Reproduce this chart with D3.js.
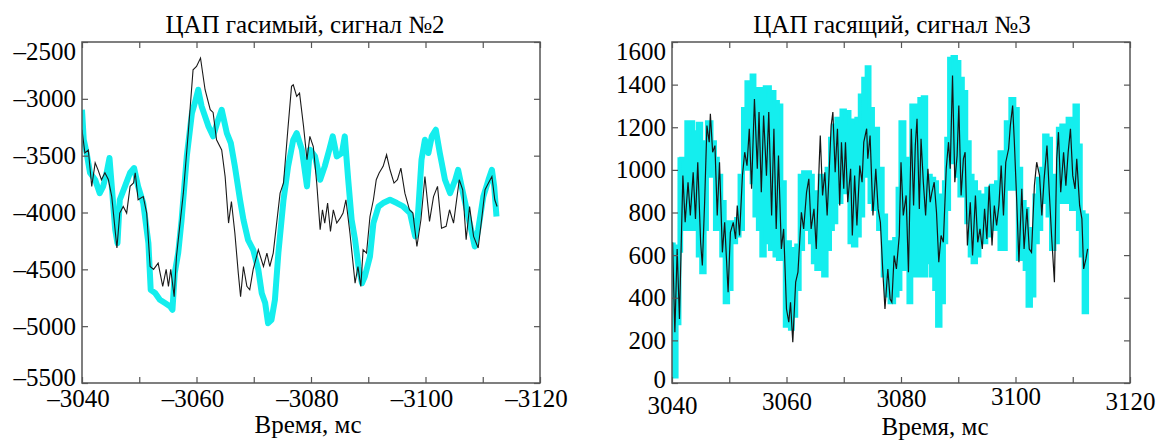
<!DOCTYPE html>
<html>
<head>
<meta charset="utf-8">
<script src="https://cdn.jsdelivr.net/npm/d3@7"></script>
<style>
  body { margin: 0; background: #fff; }
</style>
</head>
<body>
<svg id="chart" width="1163" height="441"></svg>
<script>
// ---- left panel: ЦАП гасимый, сигнал №2 ----
const leftXTicks = [-3040, -3050, -3060, -3070, -3080, -3090, -3100, -3110, -3120];
const leftXLabels = [-3040, -3060, -3080, -3100, -3120];
const leftYTicks = [-5500, -5000, -4500, -4000, -3500, -3000, -2500];

const leftBlackT = [-3040.0,-3040.5,-3041.1,-3041.7,-3042.3,-3042.8,-3043.4,-3044.0,-3044.6,-3045.2,
  -3046.1,-3046.6,-3047.2,-3047.8,-3048.4,-3049.0,-3049.3,-3049.8,-3050.7,-3051.3,
  -3051.9,-3052.5,-3053.3,-3054.1,-3054.7,-3055.1,-3055.5,-3056.1,-3056.5,-3057.7,
  -3058.6,-3059.4,-3060.0,-3060.7,-3061.5,-3062.4,-3062.9,-3063.5,-3064.4,-3065.0,
  -3065.6,-3066.1,-3066.7,-3067.3,-3067.7,-3068.2,-3068.8,-3069.3,-3069.9,-3070.8,
  -3071.7,-3072.3,-3072.8,-3073.4,-3074.6,-3075.2,-3076.0,-3076.6,-3076.9,-3077.5,
  -3078.0,-3078.7,-3079.3,-3079.8,-3080.4,-3081.0,-3081.6,-3082.0,-3082.4,-3082.9,
  -3083.4,-3083.9,-3084.5,-3085.1,-3085.6,-3086.1,-3086.8,-3087.7,-3088.2,-3088.7,
  -3089.1,-3089.7,-3090.3,-3090.9,-3091.4,-3091.9,-3092.6,-3093.2,-3093.8,-3094.5,
  -3095.1,-3095.7,-3096.4,-3097.2,-3097.8,-3098.5,-3099.2,-3099.9,-3100.7,-3101.4,
  -3102.1,-3102.8,-3103.6,-3104.2,-3104.9,-3105.9,-3106.5,-3107.1,-3107.7,-3108.4,
  -3109.2,-3109.8,-3110.4,-3111.0,-3111.6,-3112.1,-3112.5];
const leftBlackV = [-3272,-3475,-3450,-3770,-3563,-3625,-3712,-3650,-3710,-3860,
  -4312,-4005,-3947,-4005,-3770,-3740,-3650,-3888,-3860,-4005,
  -4475,-4500,-4445,-4650,-4500,-4650,-4500,-4740,-4387,-3830,
  -3272,-2744,-2715,-2641,-2920,-3096,-3120,-3360,-3450,-3683,
  -4093,-3903,-4180,-4535,-4740,-4475,-4650,-4680,-4500,-4328,
  -4475,-4357,-4475,-4357,-3830,-3740,-3243,-2890,-2876,-2979,
  -2950,-3243,-3536,-3330,-3420,-3741,-4152,-3976,-4093,-3917,
  -4167,-3976,-4093,-4050,-4005,-3888,-4180,-4622,-4475,-4650,
  -4328,-4357,-4035,-3888,-3712,-3653,-3594,-3492,-3624,-3741,
  -3712,-3609,-3830,-3976,-4005,-4299,-4064,-3683,-4078,-3860,
  -3770,-4138,-4122,-3976,-4093,-3712,-3800,-4240,-3947,-4210,
  -4312,-4064,-3800,-3741,-3683,-3888,-3947];

const leftCyanT = [-3040.0,-3040.3,-3040.8,-3041.4,-3042.3,-3043.1,-3043.7,-3044.3,-3044.8,-3045.2,
  -3045.8,-3046.2,-3046.6,-3047.5,-3048.4,-3049.1,-3049.8,-3050.7,-3051.6,-3052.0,
  -3052.8,-3053.6,-3054.5,-3055.4,-3055.8,-3056.2,-3056.8,-3057.4,-3058.3,-3059.2,
  -3059.7,-3060.3,-3060.9,-3061.5,-3062.1,-3062.9,-3063.6,-3064.4,-3065.3,-3066.0,
  -3066.7,-3067.6,-3068.2,-3069.0,-3069.9,-3070.8,-3071.4,-3072.0,-3072.5,-3073.1,
  -3073.7,-3074.3,-3075.2,-3076.0,-3076.9,-3077.5,-3078.4,-3079.3,-3079.8,-3080.7,
  -3081.6,-3082.4,-3083.2,-3083.8,-3084.5,-3085.4,-3085.9,-3086.5,-3087.1,-3087.7,
  -3088.3,-3088.9,-3089.4,-3090.3,-3090.9,-3091.8,-3092.6,-3093.8,-3095.0,-3096.1,
  -3097.3,-3098.2,-3098.7,-3099.3,-3099.9,-3100.5,-3101.1,-3101.8,-3102.5,-3103.4,
  -3104.3,-3105.2,-3105.7,-3106.3,-3107.2,-3108.1,-3108.6,-3109.2,-3110.1,-3111.0,
  -3111.6,-3112.0,-3112.4];
const leftCyanV = [-3096,-3360,-3475,-3650,-3712,-3830,-3770,-3650,-3521,-3770,
  -4152,-4270,-3888,-3770,-3650,-3609,-3770,-3917,-4270,-4680,
  -4710,-4768,-4797,-4827,-4856,-4533,-4357,-4064,-3507,-3125,
  -3038,-2920,-3067,-3155,-3243,-3330,-3213,-3096,-3301,-3390,
  -3594,-3888,-4064,-4240,-4328,-4504,-4710,-4797,-4974,-4944,
  -4768,-4357,-3888,-3594,-3360,-3301,-3447,-3770,-3447,-3506,
  -3712,-3594,-3447,-3330,-3506,-3477,-3330,-3712,-4064,-4240,
  -4475,-4622,-4563,-4387,-4093,-3947,-3917,-3888,-3917,-3947,
  -4005,-4210,-4005,-3536,-3360,-3477,-3330,-3272,-3477,-3712,
  -3830,-3712,-3624,-3770,-3976,-4180,-4299,-4152,-3860,-3712,
  -3624,-3770,-4035];

// ---- right panel: ЦАП гасящий, сигнал №3 ----
const rightXTicks = [3040, 3050, 3060, 3070, 3080, 3090, 3100, 3110, 3120];
const rightXLabels = [3040, 3060, 3080, 3100, 3120];
const rightYTicks = [0, 200, 400, 600, 800, 1000, 1200, 1400, 1600];

const rightBlackT = [3040.1,3040.5,3040.9,3041.3,3041.9,3042.3,3042.8,3043.2,3043.7,3044.1,
  3044.5,3045.0,3045.3,3045.7,3046.1,3046.5,3046.7,3047.1,3047.5,3047.9,
  3048.3,3048.8,3049.2,3049.8,3050.2,3050.7,3051.1,3051.4,3051.8,3052.3,
  3052.7,3053.1,3053.5,3053.9,3054.4,3054.9,3055.2,3055.6,3056.0,3056.5,
  3056.9,3057.4,3057.8,3058.2,3058.6,3059.1,3059.5,3060.0,3060.4,3060.7,
  3061.1,3061.6,3062.0,3062.6,3063.0,3063.5,3063.9,3064.3,3064.8,3065.2,
  3065.7,3065.9,3066.3,3066.7,3067.1,3067.4,3067.8,3068.1,3068.5,3068.9,
  3069.3,3069.6,3070.0,3070.3,3070.7,3071.2,3071.5,3071.9,3072.3,3072.8,
  3073.2,3073.5,3074.0,3074.2,3074.6,3075.1,3075.6,3076.0,3076.4,
  3076.8,3077.2,3077.7,3078.1,3078.4,3078.8,3079.2,3079.7,3080.0,3080.4,
  3080.9,3081.3,3081.8,3082.2,3082.5,3082.8,3083.2,3083.5,3083.9,3084.3,
  3084.7,3085.1,3085.4,3085.8,3086.2,3086.6,3087.0,3087.4,3087.9,3088.3,
  3088.6,3089.0,3089.4,3089.8,3090.1,3090.5,3090.9,3091.2,3091.6,3092.1,
  3092.5,3093.0,3093.4,3093.8,3094.2,3094.6,3095.0,3095.4,3095.9,3096.3,
  3096.7,3097.1,3097.5,3097.9,3098.3,3098.8,3099.1,3099.5,3099.8,3100.2,
  3100.6,3101.1,3101.5,3102.0,3102.4,3102.8,3103.3,3103.7,3104.2,3104.6,
  3105.0,3105.5,3105.9,3106.3,3106.8,3107.2,3107.5,3107.9,3108.4,3108.8,
  3109.2,3109.6,3110.0,3110.4,3110.7,3111.2,3111.6,3111.9,3112.3,3112.6];
const rightBlackV = [660,238,629,300,973,754,942,786,989,770,
  1036,660,551,848,1208,1130,1263,1083,1114,786,
  1036,613,754,426,707,754,676,833,692,973,
  1083,1020,1193,911,1333,1005,1271,895,1255,973,
  1271,786,1193,723,1067,629,723,347,285,379,
  191,473,520,801,723,895,958,723,817,629,
  1020,1161,880,989,786,958,1208,1271,989,1193,
  833,1130,911,1130,848,1005,692,973,739,1020,
  942,1130,1193,1052,1161,786,1005,817,754,
  535,347,535,394,379,598,535,692,1036,786,
  880,520,1193,833,1114,1240,817,1146,942,786,
  1005,848,895,942,801,567,692,660,1005,1130,
  1005,1443,942,1067,1302,880,1052,1083,645,848,
  598,880,660,723,629,817,676,926,645,833,
  739,833,1020,786,1036,1099,1208,1302,1130,864,
  567,911,629,817,629,613,926,1036,973,786,
  958,1114,895,692,473,1052,1177,895,1083,926,
  1083,1193,973,911,1052,833,770,535,582,629];

const rightCyanT = [3040.0,3040.3,3040.8,3041.3,3041.6,3042.5,3043.1,3043.7,3044.5,3045.1,
  3045.7,3046.1,3046.9,3047.5,3048.0,3048.6,3049.2,3049.8,3050.4,3051.2,
  3051.8,3052.4,3053.0,3053.9,3054.4,3055.0,3055.6,3056.2,3057.1,3057.9,
  3058.5,3059.1,3059.7,3060.6,3061.1,3061.7,3062.3,3062.9,3063.5,3064.1,
  3064.6,3065.2,3065.8,3066.4,3067.0,3067.6,3068.1,3068.7,3069.6,3070.2,
  3071.0,3071.6,3072.2,3072.8,3073.4,3074.0,3074.5,3075.1,3076.0,
  3076.8,3077.4,3078.0,3078.8,3079.4,3079.9,3080.6,3081.3,3081.8,3082.5,
  3083.2,3083.8,3084.4,3085.2,3085.8,3086.3,3086.9,3087.5,3087.9,3088.4,
  3089.0,3089.6,3090.2,3090.8,3091.4,3092.0,3092.5,3093.1,3093.7,3094.3,
  3094.9,3095.7,3096.6,3097.2,3097.8,3098.3,3099.1,3099.8,3100.4,3101.0,
  3101.6,3102.1,3102.7,3103.3,3103.9,3104.5,3105.0,3105.6,3106.2,3106.8,
  3107.4,3108.0,3108.5,3109.1,3109.7,3110.3,3110.9,3111.4,3111.9,3112.5];
const rightCyanHi = [650,620,640,1050,1052,1224,1224,1177,1216,1130,
  973,1224,1130,1052,973,849,754,692,754,770,
  973,1286,1411,1443,1365,1380,1349,1388,1365,1318,
  1302,942,660,582,629,645,973,989,989,973,
  880,895,973,926,1005,1146,1208,1240,1279,1271,
  1224,1232,1240,1349,1427,1482,1286,1193,1005,
  786,660,660,676,911,1224,1036,1052,1302,1286,
  1333,1341,973,958,942,880,723,942,1146,1521,
  1530,1506,1427,1365,1130,973,942,895,880,880,
  911,926,942,1083,1083,1224,1333,1286,1005,849,
  817,660,723,880,958,1005,1161,1146,973,895,
  1193,1208,1161,1240,1193,1302,1114,801,786,770];
const rightCyanLo = [450,30,280,620,723,723,754,723,598,520,
  723,973,973,723,723,598,379,441,660,692,
  723,1036,1005,942,786,723,598,660,629,598,
  582,598,269,254,316,441,629,723,817,660,
  567,535,629,504,629,723,754,849,911,895,
  660,645,692,786,973,1067,849,817,723,
  504,410,379,410,441,660,535,379,629,504,
  598,504,567,504,441,269,379,660,817,1083,
  1036,973,880,911,754,598,567,598,660,660,
  692,723,754,629,629,911,1036,911,582,629,
  535,363,410,660,723,849,849,786,629,660,
  849,880,849,942,817,817,723,598,332,504];

const cyan = "#14eeee";
const serif = "Liberation Serif, DejaVu Serif, serif";
const svg = d3.select("#chart");

function dash(d) { return (d < 0 ? "\u2013" : "") + Math.abs(d); }

function drawPanel(p) {
  const w = p.x1 - p.x0, h = p.y1 - p.y0;
  const g = svg.append("g").attr("transform", `translate(${p.x0},${p.y0})`);
  const x = d3.scaleLinear().domain(p.xDomain).range([0, w]);
  const y = d3.scaleLinear().domain(p.yDomain).range([h, 0]);

  g.append("clipPath").attr("id", p.id + "clip")
    .append("rect").attr("width", w).attr("height", h);
  const plot = g.append("g").attr("clip-path", `url(#${p.id}clip)`);
  p.draw(plot, x, y);

  // ticks point inward on all four sides
  const xAxis = g.append("g").attr("transform", `translate(0,${h})`)
    .call(d3.axisBottom(x).tickValues(p.xTicks).tickSizeInner(-6).tickSizeOuter(0)
      .tickFormat(d => p.xLabels.includes(d) ? dash(d) : ""));
  xAxis.selectAll(".tick text")
    .attr("dy", null)
    .attr("dx", p.xLabelDx)
    .attr("y", d => p.xLabelBase[Math.max(0, p.xLabels.indexOf(d))] - p.y1);
  g.append("g").call(d3.axisTop(x).tickValues(p.xTicks).tickSizeInner(-6).tickSizeOuter(0).tickFormat(""));

  const yAxis = g.append("g")
    .call(d3.axisLeft(y).tickValues(p.yTicks).tickSizeInner(-6).tickSizeOuter(0).tickPadding(6)
      .tickFormat(dash));
  yAxis.selectAll(".tick text").attr("y", d => p.yShift[d] || 0);
  g.append("g").attr("transform", `translate(${w},0)`)
    .call(d3.axisRight(y).tickValues(p.yTicks).tickSizeInner(-6).tickSizeOuter(0).tickFormat(""));

  g.selectAll(".domain").remove();
  g.selectAll(".tick line").attr("stroke", "#555").attr("stroke-width", 1.2);
  g.selectAll("g").attr("font-family", serif).attr("font-size", 25);
  g.selectAll(".tick text").attr("font-family", serif).attr("font-size", 25).attr("fill", "#000");

  g.append("rect").attr("width", w).attr("height", h)
    .attr("fill", "none").attr("stroke", "#555").attr("stroke-width", 1.5);

  svg.append("text").attr("x", p.titleX).attr("y", 33)
    .attr("text-anchor", "middle").attr("font-family", serif).attr("font-size", 25)
    .text(p.title);
  svg.append("text").attr("x", p.xTitleX).attr("y", p.xTitleY)
    .attr("text-anchor", "middle").attr("font-family", serif).attr("font-size", 25)
    .text("Время, мс");
}

drawPanel({
  id: "left", x0: 82, x1: 540, y0: 42, y1: 383,
  xDomain: [-3040, -3120], yDomain: [-5500, -2500],
  xTicks: leftXTicks, xLabels: leftXLabels, yTicks: leftYTicks,
  xLabelBase: [407, 407, 407, 407, 407], xLabelDx: -4,
  yShift: { "-2500": 9, "-5500": -6 },
  title: "ЦАП гасимый, сигнал №2", titleX: 305,
  xTitleX: 308, xTitleY: 433,
  draw: (plot, x, y) => {
    const cyanPts = leftCyanT.map((t, i) => [t, leftCyanV[i]]);
    const blackPts = leftBlackT.map((t, i) => [t, leftBlackV[i]]);
    plot.append("path").datum(cyanPts)
      .attr("fill", "none").attr("stroke", cyan).attr("stroke-width", 6)
      .attr("stroke-linejoin", "round")
      .attr("d", d3.line().x(d => x(d[0])).y(d => y(d[1])));
    plot.append("path").datum(blackPts)
      .attr("fill", "none").attr("stroke", "#1a1a1a").attr("stroke-width", 1.1)
      .attr("d", d3.line().x(d => x(d[0])).y(d => y(d[1])));
  }
});

drawPanel({
  id: "right", x0: 672, x1: 1130, y0: 42, y1: 383,
  xDomain: [3040, 3120], yDomain: [0, 1600],
  xTicks: rightXTicks, xLabels: rightXLabels, yTicks: rightYTicks,
  xLabelBase: [414, 410, 407, 405, 410], xLabelDx: 0,
  yShift: { "1600": 9, "0": -4 },
  title: "ЦАП гасящий, сигнал №3", titleX: 892,
  xTitleX: 935, xTitleY: 435,
  draw: (plot, x, y) => {
    const band = rightCyanT.map((t, i) => [t, rightCyanLo[i], rightCyanHi[i]]);
    const blackPts = rightBlackT.map((t, i) => [t, rightBlackV[i]]);
    plot.append("path").datum(band)
      .attr("fill", cyan).attr("stroke", cyan).attr("stroke-width", 4)
      .attr("d", d3.area().x(d => x(d[0])).y0(d => y(d[1])).y1(d => y(d[2])).curve(d3.curveStepAfter));
    plot.append("path").datum(blackPts)
      .attr("fill", "none").attr("stroke", "#161616").attr("stroke-width", 1.2)
      .attr("d", d3.line().x(d => x(d[0])).y(d => y(d[1])));
  }
});
</script>
</body>
</html>
